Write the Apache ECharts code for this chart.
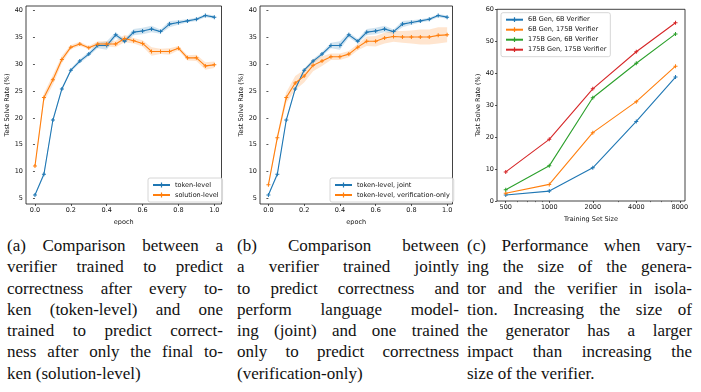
<!DOCTYPE html>
<html>
<head>
<meta charset="utf-8">
<script src="https://cdn.jsdelivr.net/npm/echarts@6/dist/echarts.min.js"></script>
<style>
	body { margin: 0; background: #fff; }
	#chart { position: absolute; left: 0; top: 0; width: 701px; height: 225px; }
	.cap { position: absolute; top: 235px; font-family: "Liberation Serif", serif; font-size: 17px; line-height: 21.3px; color: #111; }
	.cap div { text-align: justify; text-align-last: justify; white-space: nowrap; }
	.cap div.last { text-align: left; text-align-last: left; }
</style>
</head>
<body>
<div id="chart"></div>
<div class="cap" style="left:7px; width:216px;">
	<div>(a) Comparison between a</div>
	<div>verifier trained to predict</div>
	<div>correctness after every to-</div>
	<div>ken (token-level) and one</div>
	<div>trained to predict correct-</div>
	<div>ness after only the final to-</div>
	<div class="last">ken (solution-level)</div>
</div>
<div class="cap" style="left:237px; width:222px;">
	<div>(b) Comparison between</div>
	<div>a verifier trained jointly</div>
	<div>to predict correctness and</div>
	<div>perform language model-</div>
	<div>ing (joint) and one trained</div>
	<div>only to predict correctness</div>
	<div class="last">(verification-only)</div>
</div>
<div class="cap" style="left:467px; width:225px;">
	<div>(c) Performance when vary-</div>
	<div>ing the size of the genera-</div>
	<div>tor and the verifier in isola-</div>
	<div>tion. Increasing the size of</div>
	<div>the generator has a larger</div>
	<div>impact than increasing the</div>
	<div class="last">size of the verifier.</div>
</div>
<script>
	// (a) / (b): solve rate vs epoch
	var epochs = [0, 0.05, 0.1, 0.15, 0.2, 0.25, 0.3, 0.35, 0.4, 0.45, 0.5, 0.55, 0.6, 0.65, 0.7, 0.75, 0.8, 0.85, 0.9, 0.95, 1.0];
	var tokenLevel = [5.6, 9.5, 19.6, 25.4, 28.9, 30.6, 31.9, 33.5, 33.5, 35.5, 34.3, 36.0, 36.2, 36.6, 36.1, 37.5, 37.8, 38.1, 38.4, 39.1, 38.8];
	var tokenLevelErr = [0.2, 0.4, 0.4, 0.3, 0.3, 0.4, 0.4, 0.5, 0.8, 0.5, 0.4, 0.6, 0.6, 0.6, 0.4, 0.6, 0.4, 0.3, 0.3, 0.3, 0.3];
	var solutionLevel = [11.0, 23.8, 27.1, 30.9, 33.2, 33.8, 33.1, 33.8, 33.8, 33.8, 34.8, 34.4, 33.9, 32.4, 32.4, 32.4, 33.0, 31.2, 31.2, 29.7, 29.9];
	var solutionLevelErr = [0.4, 0.8, 0.9, 0.7, 0.4, 0.4, 0.3, 0.5, 0.5, 0.6, 0.7, 0.5, 0.6, 0.8, 0.5, 0.6, 0.4, 0.5, 0.6, 0.7, 0.6];
	var verifOnly = [7.5, 16.3, 23.8, 26.5, 27.8, 29.8, 30.6, 31.4, 31.4, 31.9, 33.2, 34.3, 34.3, 34.9, 35.2, 35.1, 35.1, 35.1, 35.1, 35.4, 35.5];
	var verifOnlyErr = [0.4, 0.6, 1.0, 1.3, 1.2, 1.1, 0.9, 0.6, 0.6, 0.6, 0.6, 0.9, 1.0, 1.0, 1.0, 1.1, 1.2, 1.4, 1.4, 1.5, 1.4];
	var epochTicks = [0, 0.2, 0.4, 0.6, 0.8, 1.0];
	var rateTicks = [5, 10, 15, 20, 25, 30, 35, 40];

	// (c): solve rate vs training set size
	var trainSizes = [500, 1000, 2000, 4000, 7473];
	var gen6Ver6 = [1.9, 3.1, 10.4, 24.9, 38.8];
	var gen6Ver175 = [2.4, 5.2, 21.4, 31.1, 42.2];
	var gen175Ver6 = [3.5, 11.0, 32.3, 43.1, 52.3];
	var gen175Ver175 = [9.1, 19.3, 35.1, 46.7, 55.8];
	var sizeTicks = [500, 1000, 2000, 4000, 8000];
	var sizeMinorTicks = [600, 700, 800, 900, 3000, 5000, 6000, 7000];
	var sizeRateTicks = [0, 10, 20, 30, 40, 50, 60];

	var BLUE = '#1f77b4', ORANGE = '#ff7f0e', GREEN = '#2ca02c', RED = '#d62728';
	var FONT = 'DejaVu Sans';
	var PLUS = 'path://M-0.25,-1L0.25,-1L0.25,-0.25L1,-0.25L1,0.25L0.25,0.25L0.25,1L-0.25,1L-0.25,0.25L-1,0.25L-1,-0.25L-0.25,-0.25Z';

	function pairs(xs, ys) {
		return xs.map(function (x, i) { return [x, ys[i]]; });
	}

	function lineSeries(name, xs, ys, color, axis) {
		return {
			name: name, type: 'line', xAxisIndex: axis, yAxisIndex: axis,
			data: pairs(xs, ys),
			symbol: PLUS, symbolSize: 4, showSymbol: true,
			lineStyle: { color: color, width: 1.1 },
			itemStyle: { color: color },
			z: 5, animation: false
		};
	}

	// shaded band between (value - err) and (value + err), one polygon
	function bandSeries(ys, err, color, axis) {
		var rows = epochs.map(function (x, i) { return [x, ys[i] - err[i], ys[i] + err[i]]; });
		return {
			type: 'custom', xAxisIndex: axis, yAxisIndex: axis,
			data: rows, encode: { x: 0, y: [1, 2] },
			silent: true, z: 2, animation: false,
			renderItem: function (params, api) {
				if (params.dataIndex !== 0) return null;
				var pts = [];
				for (var i = 0; i < rows.length; i++) pts.push(api.coord([rows[i][0], rows[i][2]]));
				for (var j = rows.length - 1; j >= 0; j--) pts.push(api.coord([rows[j][0], rows[j][1]]));
				return { type: 'polygon', shape: { points: pts }, style: { fill: color, opacity: 0.2 } };
			}
		};
	}

	var tickLabel = { fontFamily: FONT, fontSize: 6.5, color: '#111', margin: 3 };
	var tickLine = { length: 2, lineStyle: { color: '#111', width: 0.7 } };
	var nameText = { fontFamily: FONT, fontSize: 6.5, color: '#111' };

	function epochAxis(idx, min, max) {
		return {
			type: 'value', gridIndex: idx, min: min, max: max,
			name: 'epoch', nameLocation: 'middle', nameGap: 11, nameTextStyle: nameText,
			axisLine: { show: false }, splitLine: { show: false },
			axisTick: Object.assign({ show: true, customValues: epochTicks }, tickLine),
			axisLabel: Object.assign({ customValues: epochTicks, formatter: function (v) { return v.toFixed(1); } }, tickLabel)
		};
	}

	function rateAxis(idx, min, max, ticks, gap) {
		return {
			type: 'value', gridIndex: idx, min: min, max: max,
			name: 'Test Solve Rate (%)', nameLocation: 'middle', nameGap: gap, nameTextStyle: nameText,
			axisLine: { show: false }, splitLine: { show: false },
			axisTick: Object.assign({ show: true, customValues: ticks }, tickLine),
			axisLabel: Object.assign({ customValues: ticks }, tickLabel)
		};
	}

	function legendBox(names, pos) {
		return Object.assign({
			data: names, orient: 'vertical',
			itemWidth: 17, itemHeight: 6, itemGap: 2,
			textStyle: { fontFamily: FONT, fontSize: 6.5, color: '#111', lineHeight: 8 },
			backgroundColor: 'rgba(255,255,255,0.8)',
			borderColor: '#cccccc', borderWidth: 0.8, borderRadius: 2,
			padding: [3, 4, 3, 4], selectedMode: false
		}, pos);
	}

	var gridBase = { show: true, borderColor: '#111', borderWidth: 0.8, containLabel: false, outerBoundsMode: 'none' };

	var series = [
		bandSeries(tokenLevel, tokenLevelErr, BLUE, 0),
		bandSeries(solutionLevel, solutionLevelErr, ORANGE, 0),
		lineSeries('token-level', epochs, tokenLevel, BLUE, 0),
		lineSeries('solution-level', epochs, solutionLevel, ORANGE, 0),
		bandSeries(tokenLevel, tokenLevelErr, BLUE, 1),
		bandSeries(verifOnly, verifOnlyErr, ORANGE, 1),
		lineSeries('token-level, joint', epochs, tokenLevel, BLUE, 1),
		lineSeries('token-level, verification-only', epochs, verifOnly, ORANGE, 1),
		lineSeries('6B Gen, 6B Verifier', trainSizes, gen6Ver6, BLUE, 2),
		lineSeries('6B Gen, 175B Verifier', trainSizes, gen6Ver175, ORANGE, 2),
		lineSeries('175B Gen, 6B Verifier', trainSizes, gen175Ver6, GREEN, 2),
		lineSeries('175B Gen, 175B Verifier', trainSizes, gen175Ver175, RED, 2)
	];

	var option = {
		animation: false,
		grid: [
			Object.assign({ left: 26, top: 6, width: 195.5, height: 198 }, gridBase),
			Object.assign({ left: 260, top: 6, width: 192.5, height: 198 }, gridBase),
			Object.assign({ left: 497, top: 9.3, width: 188, height: 191.7 }, gridBase)
		],
		xAxis: [
			epochAxis(0, -0.05, 1.04),
			epochAxis(1, -0.047, 1.03),
			{
				type: 'log', gridIndex: 2, min: 435, max: 8690,
				name: 'Training Set Size', nameLocation: 'middle', nameGap: 10, nameTextStyle: nameText,
				axisLine: { show: false }, splitLine: { show: false }, minorTick: { show: false },
				axisTick: Object.assign({ show: true, customValues: sizeTicks }, tickLine),
				axisLabel: Object.assign({ customValues: sizeTicks, formatter: function (v) { return String(Math.round(v)); } }, tickLabel)
			},
			{
				type: 'log', gridIndex: 2, min: 435, max: 8690, position: 'bottom',
				axisLine: { show: false }, splitLine: { show: false },
				axisTick: { show: true, customValues: sizeMinorTicks, length: 1.2, lineStyle: { color: '#111', width: 0.5 } },
				axisLabel: { show: false }
			}
		],
		yAxis: [
			rateAxis(0, 3.93, 40.88, rateTicks, 13),
			rateAxis(1, 3.93, 40.88, rateTicks, 13),
			rateAxis(2, 0, 60, sizeRateTicks, 12.5)
		],
		legend: [
			legendBox(['token-level', 'solution-level'], { left: 148, top: 178 }),
			legendBox(['token-level, joint', 'token-level, verification-only'], { left: 330, top: 178 }),
			legendBox(['6B Gen, 6B Verifier', '6B Gen, 175B Verifier', '175B Gen, 6B Verifier', '175B Gen, 175B Verifier'], { left: 501, top: 12.7 })
		],
		series: series
	};

	var chart = echarts.init(document.getElementById('chart'), null, { renderer: 'canvas' });
	chart.setOption(option);
</script>
</body>
</html>
